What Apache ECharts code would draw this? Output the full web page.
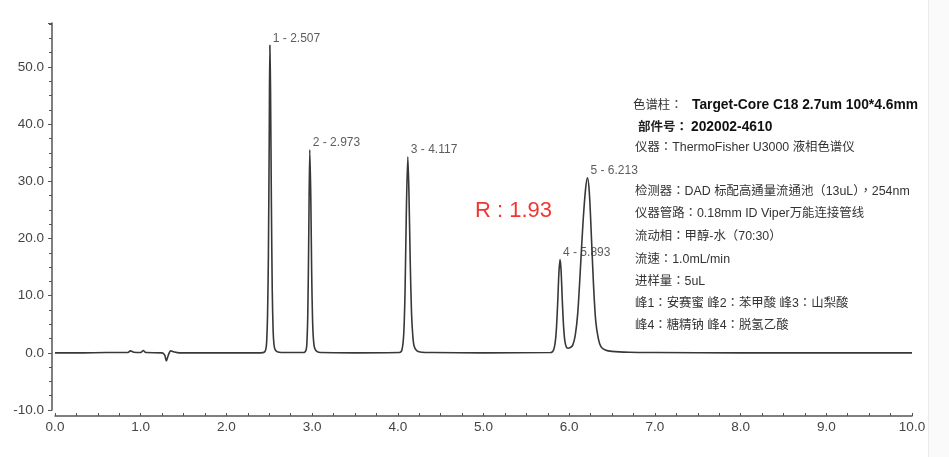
<!DOCTYPE html>
<html>
<head>
<meta charset="utf-8">
<script src="https://cdn.jsdelivr.net/npm/echarts@6/dist/echarts.min.js"></script>
<style>
html,body{margin:0;padding:0;background:#fff;}
#chart{width:949px;height:457px;}
</style>
</head>
<body>
<div id="chart"></div>
<script>
// Chromatogram trace (time in min, signal in mAU)
const retentionTimes = [
  0.0, 0.3, 0.6, 0.85, 0.88, 0.92, 1.0, 1.03, 1.06, 1.25, 1.28, 1.30, 1.32, 1.35, 1.38, 1.45, 2.0, 2.40,
  2.44, 2.46, 2.47, 2.48, 2.49, 2.50, 2.507, 2.515, 2.525, 2.535, 2.545, 2.555, 2.57, 2.60, 2.70,
  2.90, 2.93, 2.94, 2.95, 2.96, 2.973, 2.985, 2.995, 3.005, 3.015, 3.03, 3.06, 3.10,
  3.5, 4.02, 4.05, 4.07, 4.085, 4.10, 4.117, 4.13, 4.145, 4.16, 4.175, 4.19, 4.22, 4.28, 4.40,
  5.0, 5.78, 5.82, 5.845, 5.865, 5.88, 5.893, 5.905, 5.92, 5.935, 5.95, 5.97, 5.99, 6.01,
  6.04, 6.07, 6.10, 6.13, 6.16, 6.19, 6.213, 6.235, 6.26, 6.285, 6.31, 6.34, 6.37, 6.42, 6.50, 6.70, 7.0,
  8.0, 9.0, 10.0
];
const signalValues = [
  0.0, 0.0, 0.05, 0.05, 0.35, 0.1, 0.05, 0.4, 0.05, 0.0, -0.4, -1.4, -0.5, 0.35, 0.2, 0.0, 0.0, 0.0,
  0.1, 0.6, 2.0, 6.5, 17, 38, 53.8, 46, 26, 11, 4, 1.5, 0.5, 0.15, 0.05,
  0.05, 0.5, 2, 7, 19, 35.5, 27, 14, 6, 2.5, 0.8, 0.2, 0.05,
  0.0, 0.05, 0.6, 3.5, 11, 25, 34.3, 28, 16, 7, 3, 1.2, 0.4, 0.1, 0.05,
  0.0, 0.05, 0.6, 3, 8.5, 14, 16.3, 14.5, 9, 4.5, 2, 0.9, 0.8, 0.9,
  1.3, 3, 7, 14.5, 22.5, 28.5, 30.6, 28, 20, 11.5, 5.5, 2.5, 1.1, 0.5, 0.25, 0.1, 0.05,
  0.0, 0.0, 0.0
];

// Peak annotations
const peakTimes = [2.507, 2.973, 4.117, 5.893, 6.213];
const peakHeights = [53.8, 35.5, 34.3, 16.3, 30.6];
const peakLabels = ['1 - 2.507', '2 - 2.973', '3 - 4.117', '4 - 5.893', '5 - 6.213'];

// Axis ticks
const xTickLabels = ['0.0','1.0','2.0','3.0','4.0','5.0','6.0','7.0','8.0','9.0','10.0'];
const yTickLabels = ['-10.0','0.0','10.0','20.0','30.0','40.0','50.0'];

// Info text
const resolutionText = 'R : 1.93';
const columnLabel = '色谱柱：';
const columnValue = 'Target-Core C18 2.7um 100*4.6mm';
const partLabel = '部件号：';
const partValue = '202002-4610';
const infoLines = [
  '仪器：ThermoFisher U3000 液相色谱仪',
  '检测器：DAD 标配高通量流通池（13uL），254nm',
  '仪器管路：0.18mm ID Viper万能连接管线',
  '流动相：甲醇-水（70:30）',
  '流速：1.0mL/min',
  '进样量：5uL',
  '峰1：安赛蜜 峰2：苯甲酸 峰3：山梨酸',
  '峰4：糖精钠 峰4：脱氢乙酸'
];

const FONT = '"Liberation Sans", Arial, "Noto Sans CJK TC", "Noto Sans CJK SC", sans-serif';
const traceData = retentionTimes.map((t, i) => [t, signalValues[i]]);
const peakData = peakTimes.map((t, i) => ({ value: [t, peakHeights[i]], label: { formatter: peakLabels[i] } }));

const infoY = [148, 191.5, 214, 236.7, 259.2, 281.3, 303.5, 325.5];
const graphics = [
  { type: 'rect', shape: { x: 928, y: 0, width: 21, height: 457 }, style: { fill: '#fafafa' }, silent: true },
  { type: 'line', shape: { x1: 928.5, y1: 0, x2: 928.5, y2: 457 }, style: { stroke: '#ebebeb', lineWidth: 1 }, silent: true },
  { type: 'text', x: 475, y: 211, style: { text: resolutionText, fill: '#f03535', font: '22px ' + FONT, textVerticalAlign: 'middle' } },
  { type: 'text', x: 633, y: 105.5, style: { text: columnLabel, fill: '#333', font: '12.4px ' + FONT, textVerticalAlign: 'middle' } },
  { type: 'text', x: 692, y: 105.5, style: { text: columnValue, fill: '#111', font: 'bold 13.8px ' + FONT, textVerticalAlign: 'middle' } },
  { type: 'text', x: 638, y: 127.5, style: { text: partLabel, fill: '#222', font: 'bold 12.5px ' + FONT, textVerticalAlign: 'middle' } },
  { type: 'text', x: 691, y: 127.5, style: { text: partValue, fill: '#111', font: 'bold 13.8px ' + FONT, textVerticalAlign: 'middle' } }
];
infoLines.forEach((line, i) => {
  graphics.push({ type: 'text', x: 635, y: infoY[i], style: { text: line, fill: '#333', font: '12.4px ' + FONT, textVerticalAlign: 'middle' } });
});

const chart = echarts.init(document.getElementById('chart'), null, { renderer: 'canvas' });
chart.setOption({
  animation: false,
  backgroundColor: '#ffffff',
  grid: { left: 55, right: 37, top: 23, bottom: 47, containLabel: false },
  xAxis: {
    type: 'value', min: 0, max: 10, interval: 1, offset: 6,
    axisLine: { show: true, onZero: false, lineStyle: { color: '#555', width: 1.5 } },
    axisTick: { show: true, inside: true, length: 3, lineStyle: { color: '#555' } },
    minorTick: { show: true, splitNumber: 4, length: 3, lineStyle: { color: '#555' } },
    splitLine: { show: false },
    axisLabel: { color: '#444', fontSize: 13.5, fontFamily: FONT, margin: 5,
      formatter: (v) => xTickLabels[Math.round(v)] }
  },
  yAxis: {
    type: 'value', min: -10, max: 57.7, interval: 10, offset: 3,
    axisLine: { show: true, onZero: false, lineStyle: { color: '#555', width: 1.5 } },
    axisTick: { show: true, inside: false, length: 4, lineStyle: { color: '#555' } },
    minorTick: { show: true, splitNumber: 4, length: 3, lineStyle: { color: '#555' } },
    splitLine: { show: false },
    axisLabel: { color: '#444', fontSize: 13.5, fontFamily: FONT, margin: 8, showMaxLabel: false,
      formatter: (v) => { const i = Math.round((v + 10) / 10); return (Math.abs(v - (i * 10 - 10)) < 1e-6 && yTickLabels[i]) ? yTickLabels[i] : ''; } }
  },
  series: [
    {
      type: 'line', data: traceData, showSymbol: false, symbol: 'none', smooth: 0.3,
      lineStyle: { color: '#383838', width: 1.6 }, silent: true
    },
    {
      type: 'scatter', data: peakData, symbolSize: 0, silent: true,
      label: { show: true, position: [3, -13], align: 'left', verticalAlign: 'top',
        color: '#333', fontSize: 12, fontFamily: FONT }
    }
  ],
  graphic: graphics
});
</script>
</body>
</html>
